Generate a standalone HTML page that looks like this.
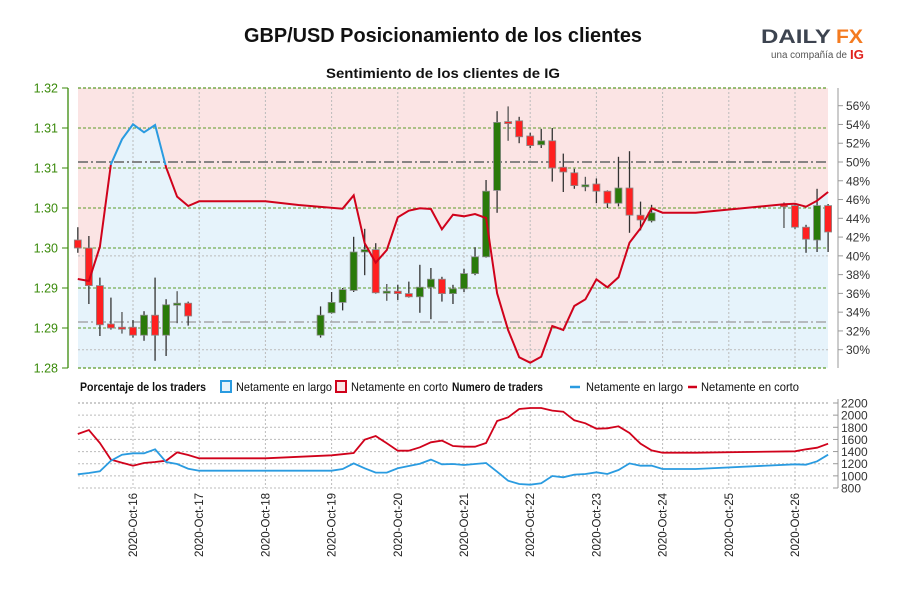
<!DOCTYPE html>
<html><head><meta charset="utf-8"><style>
html,body{margin:0;padding:0;background:#fff;}
svg{display:block;font-family:"Liberation Sans",sans-serif;}
</style></head><body>
<svg id="chart" width="900" height="600" viewBox="0 0 900 600">
<text x="443" y="42" text-anchor="middle" font-size="20" font-weight="bold" fill="#111" textLength="398" lengthAdjust="spacingAndGlyphs">GBP/USD Posicionamiento de los clientes</text>
<text x="443" y="78" text-anchor="middle" font-size="14" font-weight="bold" fill="#111" textLength="234" lengthAdjust="spacingAndGlyphs">Sentimiento de los clientes de IG</text>
<g>
<text x="761" y="43" font-size="19" font-weight="bold" fill="#3d4450" textLength="70" lengthAdjust="spacingAndGlyphs">DAILY</text>
<text x="836" y="43" font-size="19" font-weight="bold" fill="#f47b20" textLength="27" lengthAdjust="spacingAndGlyphs">FX</text>
<text x="771" y="58" font-size="10" fill="#555" textLength="76" lengthAdjust="spacingAndGlyphs">una compañía de</text>
<text x="850" y="59" font-size="13" font-weight="bold" fill="#e0211d" textLength="14" lengthAdjust="spacingAndGlyphs">IG</text>
</g>
<g id="topPanel"></g>
<g id="bottomPanel"></g>
<g font-size="12">
<text x="80" y="391" font-weight="bold" fill="#111" textLength="126" lengthAdjust="spacingAndGlyphs">Porcentaje de los traders</text>
<rect x="221" y="381" width="10" height="11" fill="#e6f3fb" stroke="#2a9be0" stroke-width="2"/>
<text x="236" y="391" fill="#111" textLength="96" lengthAdjust="spacingAndGlyphs">Netamente en largo</text>
<rect x="336" y="381" width="10" height="11" fill="#fbe4e4" stroke="#d0021b" stroke-width="2"/>
<text x="351" y="391" fill="#111" textLength="97" lengthAdjust="spacingAndGlyphs">Netamente en corto</text>
<text x="452" y="391" font-weight="bold" fill="#111" textLength="91" lengthAdjust="spacingAndGlyphs">Numero de traders</text>
<line x1="570" y1="387" x2="580" y2="387" stroke="#2a9be0" stroke-width="2.5"/>
<text x="586" y="391" fill="#111" textLength="97" lengthAdjust="spacingAndGlyphs">Netamente en largo</text>
<line x1="688" y1="387" x2="697" y2="387" stroke="#d0021b" stroke-width="2.5"/>
<text x="701" y="391" fill="#111" textLength="98" lengthAdjust="spacingAndGlyphs">Netamente en corto</text>
</g>
</svg>
<script>
// ---- data ----
const dateLabels = ["2020-Oct-16","2020-Oct-17","2020-Oct-18","2020-Oct-19","2020-Oct-20","2020-Oct-21","2020-Oct-22","2020-Oct-23","2020-Oct-24","2020-Oct-25","2020-Oct-26"];
const priceTicks = ["1.32","1.31","1.31","1.30","1.30","1.29","1.29","1.28"];
const priceTickValues = [1.3175,1.3125,1.3075,1.3025,1.2975,1.2925,1.2875,1.2825];
const pctTicks = [30,32,34,36,38,40,42,44,46,48,50,52,54,56];
const countTicks = [800,1000,1200,1400,1600,1800,2000,2200];
const candleHours = [-20,-16,-12,-8,-4,0,4,8,12,16,20,68,72,76,80,84,88,92,96,100,104,108,112,116,120,124,128,132,136,140,144,148,152,156,160,164,168,172,176,180,184,188,236,240,244,248,252];
const candleOpen = [1.2985,1.2975,1.2928,1.2880,1.2876,1.2876,1.2866,1.2891,1.2866,1.2904,1.2906,1.2866,1.2894,1.2907,1.2922,1.2970,1.2973,1.2920,1.2921,1.2918,1.2914,1.2926,1.2936,1.2918,1.2924,1.2943,1.2964,1.3047,1.3133,1.3134,1.3115,1.3104,1.3109,1.3076,1.3069,1.3053,1.3055,1.3046,1.3031,1.3050,1.3016,1.3009,1.3029,1.3028,1.3001,1.2985,1.3028];
const candleHigh = [1.3001,1.2990,1.2938,1.2913,1.2895,1.2885,1.2896,1.2938,1.2911,1.2921,1.2908,1.2902,1.2920,1.2925,1.2989,1.2999,1.2981,1.2930,1.2929,1.2933,1.2954,1.2950,1.2939,1.2929,1.2949,1.2976,1.3060,1.3146,1.3152,1.3139,1.3119,1.3124,1.3125,1.3093,1.3074,1.3064,1.3062,1.3047,1.3089,1.3096,1.3033,1.3029,1.3032,1.3030,1.3004,1.3049,1.3030];
const candleLow = [1.2969,1.2905,1.2865,1.2873,1.2868,1.2863,1.2859,1.2834,1.2840,1.2881,1.2878,1.2863,1.2893,1.2897,1.2920,1.2941,1.2918,1.2909,1.2910,1.2913,1.2894,1.2886,1.2908,1.2905,1.2920,1.2941,1.2963,1.3019,1.3109,1.3106,1.3100,1.3100,1.3058,1.3045,1.3049,1.3046,1.3031,1.3025,1.3027,1.2994,1.2997,1.3007,1.3000,1.2999,1.2969,1.2970,1.2970];
const candleClose = [1.2975,1.2928,1.2879,1.2875,1.2875,1.2866,1.2891,1.2866,1.2904,1.2906,1.2890,1.2891,1.2907,1.2923,1.2970,1.2973,1.2919,1.2921,1.2918,1.2914,1.2926,1.2936,1.2918,1.2924,1.2943,1.2964,1.3046,1.3132,1.3133,1.3114,1.3103,1.3109,1.3075,1.3070,1.3053,1.3054,1.3046,1.3031,1.3050,1.3016,1.3010,1.3019,1.3029,1.3001,1.2986,1.3028,1.2995];
const pctHours = [-20,-16,-12,-8,-4,0,4,8,12,16,20,24,48,60,76,80,84,88,92,96,100,104,108,112,116,120,124,128,132,136,140,144,148,152,156,160,164,168,172,176,180,184,188,192,204,236,240,244,248,252];
const pctLong = [37.53,37.32,40.97,49.75,52.42,54.02,53.16,53.94,49.44,46.30,45.31,45.81,45.81,45.42,45.02,46.45,41.34,39.27,40.62,44.11,44.81,45.07,44.99,42.83,44.38,44.21,44.46,44.03,36.01,32.10,29.19,28.61,29.25,32.53,32.10,34.66,35.37,37.50,36.65,37.71,41.40,42.94,45.07,44.60,44.60,45.49,45.56,45.24,45.88,46.80];
const countHours = [-20,-16,-12,-8,-4,0,4,8,12,16,20,24,48,72,76,80,84,88,92,96,100,104,108,112,116,120,124,128,132,136,140,144,148,152,156,160,164,168,172,176,180,184,188,192,204,240,244,248,252];
const shortCount = [1689,1755,1541,1267,1217,1168,1212,1228,1250,1387,1343,1289,1289,1338,1357,1376,1596,1657,1536,1415,1415,1470,1552,1580,1492,1481,1481,1541,1904,1964,2101,2118,2118,2074,2057,1915,1865,1777,1783,1816,1706,1530,1420,1382,1382,1404,1437,1464,1530];
const longCount = [1025,1047,1075,1250,1349,1371,1371,1437,1228,1195,1118,1085,1085,1085,1113,1206,1124,1053,1053,1124,1162,1201,1267,1190,1195,1179,1195,1212,1069,921,866,855,877,998,976,1020,1031,1058,1031,1096,1206,1168,1168,1113,1113,1190,1184,1239,1349];

// ---- scales ----
const PL=78, PR=828, PT=88, PB=368, BT=403, BB=488;
const xOf = h => 133 + h*66.2/24;
const yP = p => PT + (1.3175-p)*8000;
const yPct = v => 162 + (50-v)*9.385;
const yN = v => BT + (2200-v)*(BB-BT)/1400;
const NS="http://www.w3.org/2000/svg";
function mk(tag, attrs, parent){const el=document.createElementNS(NS,tag);for(const k in attrs)el.setAttribute(k,attrs[k]);parent.appendChild(el);return el;}
const gTop=document.getElementById('topPanel'), gBot=document.getElementById('bottomPanel');

const pts = pctHours.map((h,i)=>[xOf(h),yPct(pctLong[i])]);
const lineStr = pts.map(p=>p[0].toFixed(1)+','+p[1].toFixed(1)).join(' ');
const firstPt=pts[0], lastPt=pts[pts.length-1];
let e;
e=mk('rect',{x:PL,y:PT,width:PR-PL,height:PB-PT,fill:'#fbe4e4'},gTop);


e=mk('polygon',{points:PL+','+PB+' '+PL+','+firstPt[1]+' '+lineStr+' '+PR+','+lastPt[1]+' '+PR+','+PB,fill:'#e6f3fb'},gTop);



dateLabels.forEach((d,i)=>{
  const x=xOf(i*24);
  e=mk('line',{x1:x,y1:PT,x2:x,y2:PB,stroke:'#bbb','stroke-dasharray':'2,2'},gTop);
  
  
  e=mk('line',{x1:x,y1:BT,x2:x,y2:BB,stroke:'#bbb','stroke-dasharray':'2,2'},gBot);
  
  
  e=mk('text',{x:0,y:0,transform:'translate('+(x+4)+','+(BB+5)+') rotate(-90)','text-anchor':'end','font-size':'11.5',fill:'#222'},gBot);
  e.textContent=d;
  
  
});
[30,40].forEach(v=>{e=mk('line',{x1:PL,y1:yPct(v),x2:PR,y2:yPct(v),stroke:'#bbb','stroke-dasharray':'2,2'},gTop);

});
priceTickValues.forEach((v,i)=>{
  const y=yP(v);
  e=mk('line',{x1:PL,y1:y,x2:PR,y2:y,stroke:'#5c9c2a','stroke-dasharray':'3,2','stroke-width':(i==0||i==7)?1.2:0.9},gTop);
  
  
  e=mk('line',{x1:62,y1:y,x2:68,y2:y,stroke:'#3a8a0a'},gTop);
  
  
  e=mk('text',{x:58,y:y+4.5,'text-anchor':'end','font-size':'12.5',fill:'#3a8a0a'},gTop);
  e.textContent=priceTicks[i];
  
  
});
e=mk('line',{x1:68,y1:PT,x2:68,y2:PB,stroke:'#3a8a0a','stroke-width':1.3},gTop);


e=mk('line',{x1:PL,y1:yPct(50),x2:PR,y2:yPct(50),stroke:'#777','stroke-width':1.8,'stroke-dasharray':'10,3,2,3'},gTop);


e=mk('line',{x1:PL,y1:322,x2:PR,y2:322,stroke:'#999','stroke-width':1.3,'stroke-dasharray':'10,3,2,3'},gTop);


e=mk('line',{x1:838,y1:PT,x2:838,y2:PB,stroke:'#999'},gTop);


pctTicks.forEach(v=>{const y=yPct(v);
  e=mk('line',{x1:838,y1:y,x2:843,y2:y,stroke:'#999'},gTop);
  
  
  e=mk('text',{x:846,y:y+4.5,'font-size':'12',fill:'#333'},gTop);
  e.textContent=v+'%';
  
  
});
candleHours.forEach((h,i)=>{
  const x=xOf(h), o=candleOpen[i], c=candleClose[i];
  const up=c>o, doji=Math.abs(c-o)<0.00025;
  const g=mk('g',{},gTop);
  
  
  mk('line',{x1:x,y1:yP(candleHigh[i]),x2:x,y2:yP(candleLow[i]),stroke:doji?'#555':'#333','stroke-width':1.3},g);
  const yt=Math.min(yP(o),yP(c)), hh=Math.max(2,Math.abs(yP(o)-yP(c)));
  mk('rect',{x:x-3.5,y:yt,width:7,height:hh,fill:up?'#2a7a0a':'#ff2020',stroke:'#8a8a8a','stroke-width':0.8},g);
});
const defs=mk('defs',{},gTop);
const c1=mk('clipPath',{id:'above'},defs); mk('rect',{x:0,y:0,width:900,height:165},c1);
const c2=mk('clipPath',{id:'below'},defs); mk('rect',{x:0,y:165,width:900,height:300},c2);
e=mk('polyline',{points:lineStr,fill:'none',stroke:'#d0021b','stroke-width':2,'clip-path':'url(#below)'},gTop);


e=mk('polyline',{points:lineStr,fill:'none',stroke:'#2a9be0','stroke-width':2,'clip-path':'url(#above)'},gTop);



countTicks.forEach(v=>{const y=yN(v);
  e=mk('line',{x1:PL,y1:y,x2:PR,y2:y,stroke:'#bbb','stroke-dasharray':'2,2'},gBot);
  
  
  e=mk('line',{x1:833,y1:y,x2:838,y2:y,stroke:'#999'},gBot);
  
  
  e=mk('text',{x:841,y:y+4.5,'font-size':'12',fill:'#333'},gBot);
  e.textContent=v;
  
  
});
e=mk('line',{x1:PL,y1:BT,x2:PR,y2:BT,stroke:'#999','stroke-dasharray':'2,2'},gBot);


e=mk('line',{x1:838,y1:BT-4,x2:838,y2:BB,stroke:'#999'},gBot);


e=mk('polyline',{points:countHours.map((h,i)=>xOf(h).toFixed(1)+','+yN(shortCount[i]).toFixed(1)).join(' '),fill:'none',stroke:'#d0021b','stroke-width':1.8},gBot);


e=mk('polyline',{points:countHours.map((h,i)=>xOf(h).toFixed(1)+','+yN(longCount[i]).toFixed(1)).join(' '),fill:'none',stroke:'#2a9be0','stroke-width':1.8},gBot);


</script>
</body></html>
